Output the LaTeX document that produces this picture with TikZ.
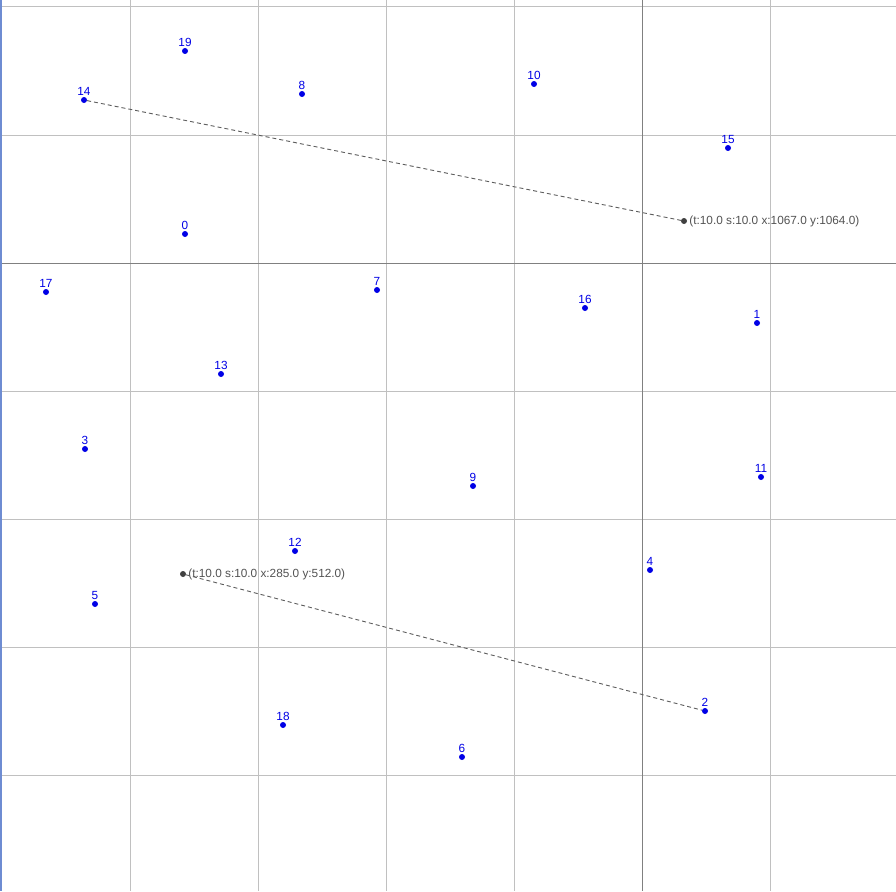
\documentclass[tikz,border=0pt]{standalone}
\usepackage{fontspec}
\setmainfont{Liberation Sans}
\definecolor{gridc}{RGB}{192,192,192}
\definecolor{axisc}{RGB}{128,128,128}
\definecolor{ptblue}{RGB}{0,0,230}
\definecolor{dark}{RGB}{64,64,64}
\definecolor{edgec}{RGB}{110,140,210}
\tikzset{
  pt/.style={circle,fill=ptblue,inner sep=0pt,minimum size=6pt},
  dpt/.style={circle,fill=dark,inner sep=0pt,minimum size=6pt},
  lbl/.style={text=ptblue,font=\fontsize{11.8}{12}\selectfont,inner sep=0pt,above=4.5pt},
  clbl/.style={text=dark!90,font=\fontsize{11.8}{12}\selectfont,inner sep=0pt,right=2pt},
  conn/.style={draw=dark!85,dashed,dash pattern=on 4pt off 3pt,line width=0.9pt}
}
\begin{document}
\begin{tikzpicture}[x=1pt,y=-1pt]
\useasboundingbox (0,0) rectangle (896,891);
\fill[white] (0,0) rectangle (896,891);
% grid
\foreach \x in {130,258,386,514,770} \draw[gridc,line width=1pt] (\x,0) -- (\x,891);
\foreach \y in {7,135,391,519,647,775} \draw[gridc,line width=1pt] (0,\y) -- (896,\y);
\draw[axisc,line width=1pt] (642,0) -- (642,891);
\draw[axisc,line width=1pt] (0,263) -- (896,263);
\draw[edgec,line width=2pt] (1,0) -- (1,891);
% points
\foreach \n/\x/\y in {19/185/51,14/84/100,8/302/94,10/534/84,15/728/148,0/185/234,17/46/292,7/377/290,16/585/308,1/757/323,13/221/374,3/85/449,9/473/486,11/761/477,12/295/551,4/650/570,5/95/604,2/705/711,18/283/725,6/462/757}{
  \node[pt] (p\n) at (\x,\y) {};
  \node[lbl] (l\n) at (p\n.center) {\n};
}
\node[dpt] (da) at (684,221) {};
\node[clbl] (dal) at (da.east) {(t:10.0 s:10.0 x:1067.0 y:1064.0)};
\node[dpt] (db) at (183,574) {};
\node[clbl] (dbl) at (db.east) {(t:10.0 s:10.0 x:285.0 y:512.0)};
\draw[conn] (p14) -- (da);
\draw[conn] (db) -- (p2);
\end{tikzpicture}
\end{document}
